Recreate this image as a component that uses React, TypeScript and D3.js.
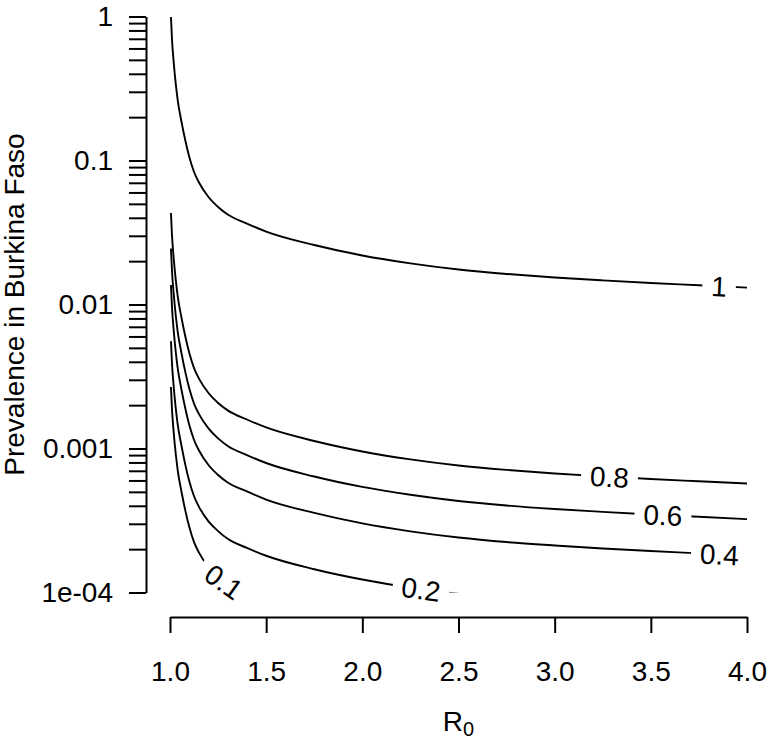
import React, { useEffect, useRef } from 'react';
import * as d3 from 'd3';

// ---- data ----
const R0 = [1.005, 1.01, 1.02, 1.03, 1.04, 1.06, 1.08, 1.1, 1.125, 1.15, 1.2, 1.25, 1.3, 1.4, 1.5, 1.75, 2, 2.25, 2.5, 2.75, 3, 3.25, 3.5, 3.75, 4];

const level1 = [0.992, 0.709, 0.468, 0.34, 0.263, 0.185, 0.137, 0.106, 0.0832, 0.0706, 0.0558, 0.0476, 0.0422, 0.0365, 0.0321, 0.0259, 0.0219, 0.0193, 0.0175, 0.0163, 0.0154, 0.0147, 0.0141, 0.0136, 0.0131];
const level08 = [0.0432, 0.0309, 0.02038, 0.01481, 0.01145, 0.00806, 0.00597, 0.00462, 0.00362, 0.00307, 0.00243, 0.00207, 0.00184, 0.00159, 0.0014, 0.001128, 0.000954, 0.00084, 0.000762, 0.00071, 0.000671, 0.00064, 0.000614, 0.000592, 0.000571];
const level06 = [0.0245, 0.0175, 0.01155, 0.00839, 0.00649, 0.00457, 0.00338, 0.00262, 0.00205, 0.00174, 0.00138, 0.001175, 0.001042, 0.000901, 0.000793, 0.000639, 0.000541, 0.000477, 0.000432, 0.000402, 0.00038, 0.000363, 0.000348, 0.000336, 0.000323];
const level04 = [0.01366, 0.00976, 0.00644, 0.00468, 0.00362, 0.00255, 0.00189, 0.00146, 0.001146, 0.000972, 0.000768, 0.000655, 0.000581, 0.000503, 0.000442, 0.000357, 0.000302, 0.000266, 0.000241, 0.000224, 0.000212, 0.000202, 0.000194, 0.000187, 0.00018];
const level02 = [0.00556, 0.00397, 0.00262, 0.0019, 0.00147, 0.00104, 0.000767, 0.000594, 0.000466, 0.000395, 0.000312, 0.000267, 0.000236, 0.000204, 0.00018, 0.000145, 0.000123, 0.000108, 0.000098];
const level01 = [0.00267, 0.00191, 0.00126, 0.000916, 0.000709, 0.000499, 0.000369, 0.000286, 0.000224, 0.00019, 0.00015, 0.000128, 0.000114, 0.0000984, 0.0000865];

const levelLabels = ['1', '0.8', '0.6', '0.4', '0.2', '0.1'];
const levelSeries = [level1, level08, level06, level04, level02, level01];
const labelAtR0 = [3.855, 3.285, 3.563, 3.857, 2.305, 1.281];

const xTicks = [1, 1.5, 2, 2.5, 3, 3.5, 4];
const yMajor = [1e-4, 1e-3, 1e-2, 1e-1, 1];
const yMajorLabels = ['1e-04', '0.001', '0.01', '0.1', '1'];
const yMinorMultipliers = [2, 3, 4, 5, 6, 7, 8, 9];

const W = 770;
const H = 739;
const FONT = '"Liberation Sans", Arial, Helvetica, sans-serif';
const FS = 28;

export default function App() {
  const ref = useRef<SVGSVGElement>(null);

  useEffect(() => {
    const svg = d3.select(ref.current);
    svg.selectAll('*').remove();

    const x = d3.scaleLinear().domain([1, 4]).range([170, 747]);
    const y = d3.scaleLog().domain([1e-4, 1]).range([592.5, 16.5]);

    const defs = svg.append('defs');
    defs.append('clipPath').attr('id', 'plotclip')
      .append('rect').attr('x', 170).attr('y', 16.5).attr('width', 577).attr('height', 576);

    svg.append('rect').attr('width', W).attr('height', H).attr('fill', '#fff');

    // y axis
    const yTicks: number[] = [];
    yMajor.forEach((d, i) => {
      yTicks.push(d);
      if (i < yMajor.length - 1) yMinorMultipliers.forEach(k => yTicks.push(d * k));
    });
    const yAxis = d3.axisLeft(y)
      .tickValues(yTicks)
      .tickSize(17)
      .tickSizeOuter(0)
      .tickPadding(16)
      .tickFormat((v: any) => {
        const idx = yMajor.findIndex(m => Math.abs(m - v) / m < 1e-6);
        return idx >= 0 ? yMajorLabels[idx] : '';
      });
    const gy = svg.append('g').attr('transform', 'translate(146,0)').call(yAxis as any);
    gy.attr('font-size', FS).attr('font-family', FONT);
    gy.selectAll('path, line').attr('stroke', '#000').attr('stroke-width', 2);
    gy.selectAll('text').attr('fill', '#000');

    // x axis
    const xAxis = d3.axisBottom(x)
      .tickValues(xTicks)
      .tickSize(16)
      .tickSizeOuter(0)
      .tickPadding(28.5)
      .tickFormat(d3.format('.1f') as any);
    const gx = svg.append('g').attr('transform', 'translate(0,617)').call(xAxis as any);
    gx.attr('font-size', FS).attr('font-family', FONT);
    gx.selectAll('path, line').attr('stroke', '#000').attr('stroke-width', 2);
    gx.selectAll('text').attr('fill', '#000');

    // axis titles
    svg.append('text')
      .attr('transform', 'translate(24,304.5) rotate(-90)')
      .attr('text-anchor', 'middle')
      .attr('font-family', FONT).attr('font-size', FS)
      .text('Prevalence in Burkina Faso');
    const xt = svg.append('text')
      .attr('x', 458.5).attr('y', 731)
      .attr('text-anchor', 'middle')
      .attr('font-family', FONT).attr('font-size', FS);
    xt.append('tspan').text('R');
    xt.append('tspan').attr('font-size', 20).attr('dy', 5).text('0');

    // contour lines
    const line = d3.line<[number, number]>()
      .x(d => x(d[0]))
      .y(d => y(d[1]))
      .curve(d3.curveMonotoneX);

    const plot = svg.append('g').attr('clip-path', 'url(#plotclip)');
    const labelLayer = svg.append('g');
    const pad = 9;

    levelSeries.forEach((vals, i) => {
      const pts: [number, number][] = vals.map((v, j) => [R0[j], v]);
      const path = plot.append('path')
        .attr('d', line(pts) as string)
        .attr('fill', 'none')
        .attr('stroke', '#000')
        .attr('stroke-width', 1.9);
      const node = path.node() as SVGPathElement;
      const total = node.getTotalLength();
      const xc = x(labelAtR0[i]);
      let lo = 0, hi = total;
      for (let k = 0; k < 40; k++) {
        const mid = (lo + hi) / 2;
        if (node.getPointAtLength(mid).x < xc) lo = mid; else hi = mid;
      }
      const L = (lo + hi) / 2;
      const c = node.getPointAtLength(L);

      const txt = labelLayer.append('text')
        .attr('font-family', FONT).attr('font-size', FS)
        .attr('text-anchor', 'middle')
        .attr('dy', '0.36em')
        .text(levelLabels[i]);
      const w = (txt.node() as SVGTextElement).getComputedTextLength();
      const p1 = node.getPointAtLength(Math.max(0, L - w / 2));
      const p2 = node.getPointAtLength(Math.min(total, L + w / 2));
      const ang = Math.atan2(p2.y - p1.y, p2.x - p1.x) * 180 / Math.PI;
      txt.attr('transform', `translate(${c.x},${c.y}) rotate(${ang})`);

      const mask = defs.append('mask').attr('id', `gap${i}`)
        .attr('maskUnits', 'userSpaceOnUse')
        .attr('x', 0).attr('y', 0).attr('width', W).attr('height', H);
      mask.append('rect').attr('x', 0).attr('y', 0).attr('width', W).attr('height', H).attr('fill', '#fff');
      mask.append('rect')
        .attr('x', -w / 2 - pad).attr('y', -FS * 0.55)
        .attr('width', w + 2 * pad).attr('height', FS * 1.1)
        .attr('transform', `translate(${c.x},${c.y}) rotate(${ang})`)
        .attr('fill', '#000');
      path.attr('mask', `url(#gap${i})`);
    });
  }, []);

  return (
    <svg
      ref={ref}
      width={W}
      height={H}
      style={{ position: 'absolute', left: 0, top: 0, display: 'block', background: '#fff' }}
    />
  );
}
